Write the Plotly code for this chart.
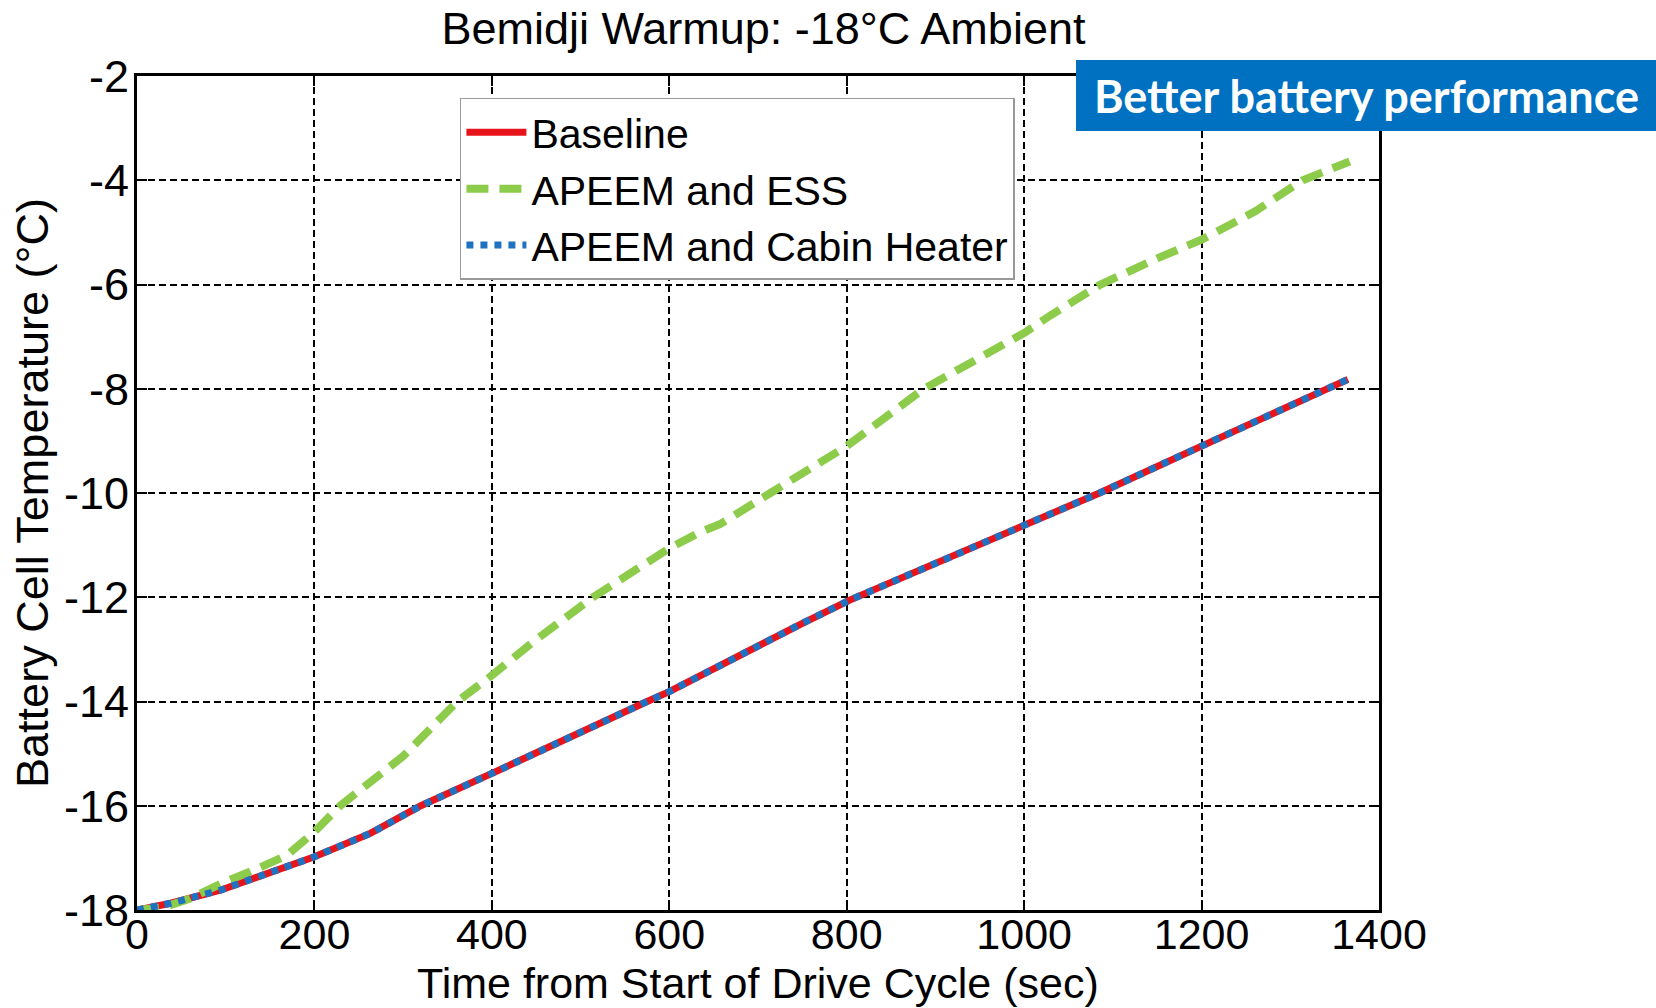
import plotly.graph_objects as go

# ---- data ----
baseline_t = [0, 38, 94, 150, 200, 263, 320, 400, 447, 500, 575, 600, 635, 700, 750,
              804, 900, 1000, 1085, 1200, 1300, 1365]
baseline_T = [-18.0, -17.87, -17.62, -17.30, -16.98, -16.53, -16.0, -15.38, -15.0, -14.6,
              -14.0, -13.81, -13.5, -12.95, -12.5, -12.05, -11.35, -10.63, -10.0, -9.1,
              -8.33, -7.82]

ess_t = [0, 30, 60, 94, 139, 169, 200, 229, 300, 361, 400, 447, 514, 600, 635, 657, 714,
         800, 887, 1000, 1029, 1086, 1150, 1200, 1260, 1314, 1367]
ess_T = [-18.0, -17.95, -17.78, -17.5, -17.18, -16.95, -16.5, -16.0, -15.05, -14.0, -13.5,
         -12.85, -12.0, -11.06, -10.75, -10.6, -10.0, -9.1, -8.0, -6.93, -6.6, -6.0, -5.5,
         -5.14, -4.6, -4.0, -3.64]

cabin_t = baseline_t
cabin_T = baseline_T

x_ticks = [0, 200, 400, 600, 800, 1000, 1200, 1400]
x_tick_labels = ["0", "200", "400", "600", "800", "1000", "1200", "1400"]
y_ticks = [-18, -16, -14, -12, -10, -8, -6, -4, -2]
y_tick_labels = ["-18", "-16", "-14", "-12", "-10", "-8", "-6", "-4", "-2"]

FONT = "Liberation Sans, Arial, sans-serif"

fig = go.Figure()
fig.add_trace(go.Scatter(x=baseline_t, y=baseline_T, mode="lines", name="Baseline",
                         line=dict(color="#e8141c", width=7)))
fig.add_trace(go.Scatter(x=ess_t, y=ess_T, mode="lines", name="APEEM and ESS",
                         line=dict(color="#8dcc4a", width=8, dash="22px,11px")))
fig.add_trace(go.Scatter(x=cabin_t, y=cabin_T, mode="lines", name="APEEM and Cabin Heater",
                         line=dict(color="#1f72c2", width=7, dash="7px,7px")))

axis_common = dict(
    showline=True, linecolor="black", linewidth=3, mirror="ticks",
    ticks="inside", ticklen=10, tickwidth=2, tickcolor="black",
    showgrid=True, gridcolor="black", gridwidth=1.5, griddash="7px,4px",
    zeroline=False, automargin=False,
)

fig.update_xaxes(range=[0, 1400], tickvals=x_ticks, ticktext=x_tick_labels,
                 ticklabelstandoff=-16,
                 tickfont=dict(family=FONT, size=43, color="black"),
                 **axis_common)
fig.update_yaxes(range=[-18, -2], tickvals=y_ticks, ticktext=y_tick_labels,
                 title=dict(text="Battery Cell Temperature (°C)",
                            font=dict(family=FONT, size=45, color="black"), standoff=2),
                 ticklabelstandoff=-4,
                 tickfont=dict(family=FONT, size=45, color="black"),
                 **axis_common)

fig.update_layout(
    width=1656, height=1008,
    margin=dict(l=137, r=277, t=76, b=98),
    paper_bgcolor="white", plot_bgcolor="white",
    title=dict(text="Bemidji Warmup: -18°C Ambient", x=0.461, xanchor="center",
               y=0.972, yanchor="middle",
               font=dict(family=FONT, size=45, color="black")),
    legend=dict(x=0.26, y=0.974, xanchor="left", yanchor="top",
                bgcolor="white", bordercolor="#999999", borderwidth=1.5,
                font=dict(family=FONT, size=41, color="black"),
                itemwidth=60, tracegroupgap=0),
    showlegend=True,
)

# x-axis title placed as text just under the tick labels
fig.add_annotation(xref="paper", yref="paper", x=0.5, y=(910 - 983) / 834,
                   text="Time from Start of Drive Cycle (sec)", showarrow=False,
                   xanchor="center", yanchor="middle",
                   font=dict(family=FONT, size=43, color="black"))

# callout box
fig.add_shape(type="rect", xref="paper", yref="paper",
              x0=(1076 - 137) / 1242, x1=(1656 - 137) / 1242,
              y0=(910 - 131) / 834, y1=(910 - 60) / 834,
              fillcolor="#0070c0", line=dict(width=0), layer="above")
fig.add_annotation(xref="paper", yref="paper",
                   x=(1366 - 137) / 1242, y=(910 - 96) / 834,
                   text="<b>Better battery performance</b>", showarrow=False,
                   font=dict(family="Lato, Noto Sans, sans-serif", size=45, color="white"),
                   xanchor="center", yanchor="middle")

fig.write_html("out.html")
